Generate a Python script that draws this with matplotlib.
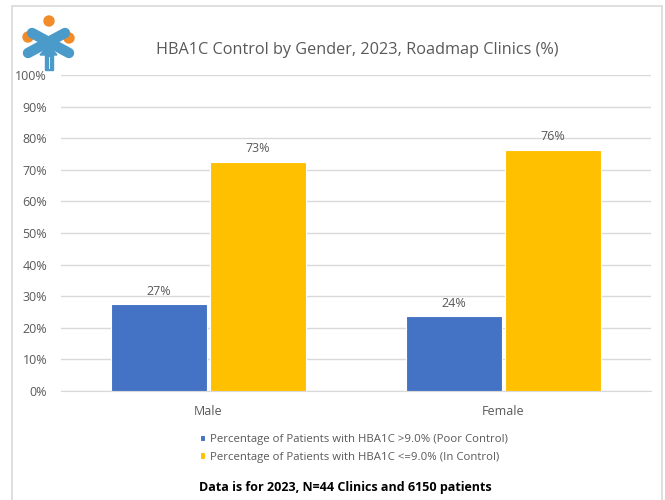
import numpy as np
import matplotlib.pyplot as plt
from matplotlib.patches import Rectangle, Circle, Polygon

# data
genders = ['Male', 'Female']
poor_control = [27.4, 23.6]
in_control = [72.6, 76.4]
series_names = ['Percentage of Patients with HBA1C >9.0% (Poor Control)',
                'Percentage of Patients with HBA1C <=9.0% (In Control)']
yticks = list(range(0, 101, 10))

blue = '#4472C4'
gold = '#FFC000'
grey = '#595959'

plt.rcParams['font.family'] = ['Open Sans', 'DejaVu Sans']

fig = plt.figure(figsize=(6.65, 5), dpi=100)
ax = fig.add_axes([61 / 665, 1 - 391 / 500, 590 / 665, 316 / 500])

# outer chart border
fig.patches.append(Rectangle((12 / 665, -0.1), 650 / 665, 1.088, transform=fig.transFigure,
                             fill=False, edgecolor='#D9D9D9', linewidth=1.2))

x = np.arange(len(genders))
w = 0.325
b1 = ax.bar(x - 0.167, poor_control, w, color=blue, edgecolor='white', linewidth=0.8,
            label=series_names[0], zorder=3)
b2 = ax.bar(x + 0.167, in_control, w, color=gold, edgecolor='white', linewidth=0.8,
            label=series_names[1], zorder=3)

for bars in (b1, b2):
    for r in bars:
        ax.text(r.get_x() + r.get_width() / 2, r.get_height() + 2.0,
                '{:.0f}%'.format(r.get_height()), ha='center', va='bottom',
                fontsize=9, color=grey)

ax.set_xlim(-0.5, 1.5)
ax.set_ylim(0, 100)
ax.set_yticks(yticks)
ax.set_yticklabels(['{}%'.format(t) for t in yticks])
ax.set_xticks(x)
ax.set_xticklabels(genders)
ax.grid(axis='y', color='#D9D9D9', linewidth=1, zorder=0)
for s in ['top', 'right', 'left']:
    ax.spines[s].set_visible(False)
ax.spines['bottom'].set_color('#D9D9D9')
ax.tick_params(axis='y', length=0, labelsize=9, labelcolor=grey, pad=10)
ax.tick_params(axis='x', length=0, labelsize=9, labelcolor=grey, pad=10)

fig.text(357 / 665, 1 - 50 / 500, 'HBA1C Control by Gender, 2023, Roadmap Clinics (%)',
         ha='center', va='center', fontsize=11.7, color=grey)

fig.legend(handles=[b1, b2], loc='upper left', bbox_to_anchor=(194 / 665, 1 - 428 / 500),
           frameon=False, fontsize=8.2, labelcolor=grey, handlelength=0.45, handleheight=0.45,
           handletextpad=0.45, labelspacing=0.6, borderpad=0)

fig.text(345 / 665, 1 - 487 / 500, 'Data is for 2023, N=44 Clinics and 6150 patients',
         ha='center', va='center', fontsize=9, fontweight='bold', color='black')

# logo (rough sketch)
lg = fig.add_axes([20 / 665, 1 - 72 / 500, 58 / 665, 60 / 500])
lg.set_xlim(0, 58)
lg.set_ylim(60, 0)
lg.axis('off')
logo_blue = '#4A9BC9'
lg.plot([12, 49], [21, 41], color=logo_blue, linewidth=7.5, solid_capstyle='round')
lg.plot([45, 8], [21, 41], color=logo_blue, linewidth=7.5, solid_capstyle='round')
lg.add_patch(Polygon([[20, 43], [28.5, 33], [37, 43]], color=logo_blue))
lg.add_patch(Rectangle((24.5, 40), 8, 18, color=logo_blue))
lg.plot([28.5, 28.5], [45, 56], color='white', linewidth=0.6)
for cx, cy in [(29, 9), (8, 25), (49, 26)]:
    lg.add_patch(Circle((cx, cy), 5, color='#F28C28'))

fig.savefig('out.png', dpi=100)
